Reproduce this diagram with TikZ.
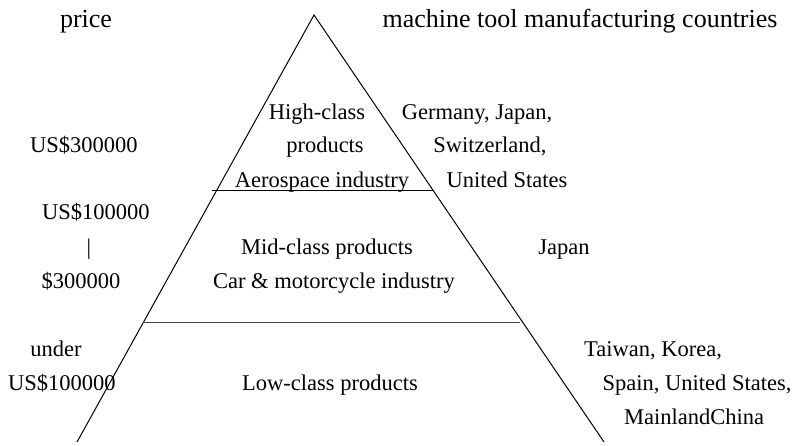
\documentclass[tikz,border=0pt]{standalone}
\usepackage{fontspec}
\setmainfont{Liberation Serif}
\usetikzlibrary{positioning}
\tikzset{
  txt/.style={font=\fontsize{22.5}{27}\selectfont, inner sep=0pt,
    text height=0.7em, text depth=0.2em, yshift=-5pt},
  head/.style={txt, font=\fontsize{26}{31}\selectfont}
}

\begin{document}
\begin{tikzpicture}[x=1pt, y=-1pt]
    \useasboundingbox (0,0) rectangle (793,445);
    % pyramid
    \coordinate (top) at (314,15);
    \coordinate (bl) at (77,442);
    \coordinate (br) at (604,442);
    \draw[line width=1pt] (bl) -- (top) -- (br);
    \draw[line width=1pt] (212,190.5) -- (433,190.5);
    \draw[line width=1.4pt, black!75] (143,322.5) -- (520,322.5);

    % headings
    \node[head] (price) at (86,20) {price};
    \node[head] (countries) at (580,20) {machine tool manufacturing countries};

    % top level
    \node[txt] (high) at (317,112) {High-class};
    \node[txt] (prod) at (325,145) {products};
    \node[txt] (aero) at (322,180) {Aerospace industry};
    \node[txt] (p3) at (84,145) {US\$300000};
    \node[txt] (ger) at (477,112) {Germany, Japan,};
    \node[txt] (swi) at (490,145) {Switzerland,};
    \node[txt] (usa) at (507,180) {United States};

    % middle level
    \node[txt] (p1) at (96,212) {US\$100000};
    \node[txt] (bar) at (89,247) {|};
    \node[txt] (p2) at (81,281) {\$300000};
    \node[txt] (mid) at (327,247) {Mid-class products};
    \node[txt] (car) at (334,281) {Car \& motorcycle industry};
    \node[txt] (jap) at (564,247) {Japan};

    % bottom level
    \node[txt] (under) at (56,349) {under};
    \node[txt] (p0) at (62,383) {US\$100000};
    \node[txt] (low) at (330,383) {Low-class products};
    \node[txt] (tai) at (653,349) {Taiwan, Korea,};
    \node[txt] (spa) at (697,383) {Spain, United States,};
    \node[txt] (chi) at (694,417) {MainlandChina};
\end{tikzpicture}
\end{document}
